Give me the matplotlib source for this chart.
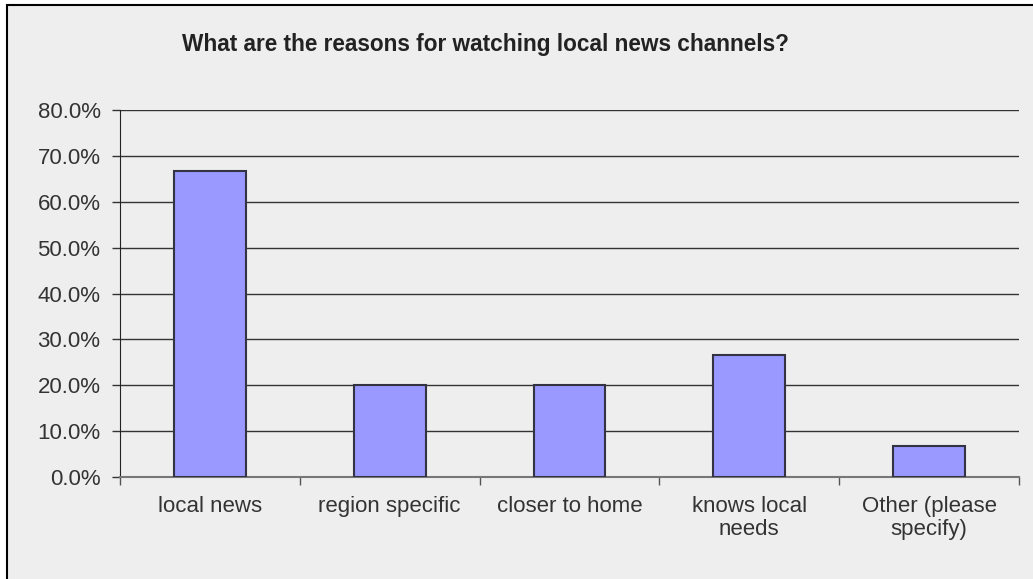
import numpy as np
import matplotlib.pyplot as plt
from matplotlib.patches import Rectangle
from matplotlib.ticker import FuncFormatter

## Data
categories = ['local news', 'region specific', 'closer to home',
              'knows local\nneeds', 'Other (please\nspecify)']
percent = [66.7, 20.0, 20.0, 26.7, 6.7]
yticks = [0, 10, 20, 30, 40, 50, 60, 70, 80]

plt.rcParams['font.family'] = ['Liberation Sans', 'DejaVu Sans']
text_col = '#333333'

fig = plt.figure(figsize=(10.33, 5.79), dpi=100, facecolor='white')

## grey chart area with black frame on top and left
fig.patches.append(Rectangle((7 / 1033, -0.05), 1.1, 1 - 5 / 579 + 0.05,
                             transform=fig.transFigure, facecolor='#eeeeee',
                             edgecolor='black', linewidth=1.5, zorder=-10))

ax = fig.add_axes([120 / 1033, 1 - 477 / 579, 899 / 1033, 367 / 579])
ax.set_facecolor('none')

x = np.arange(len(categories))
ax.bar(x, percent, width=0.4, color='#9999ff', edgecolor='#333344',
       linewidth=1.5, zorder=3)

ax.set_xlim(-0.5, len(categories) - 0.5)
ax.set_ylim(0, 80)
ax.set_yticks(yticks)
ax.yaxis.set_major_formatter(FuncFormatter(lambda v, p: f'{v:.1f}%'))
ax.grid(axis='y', color='#333333', linewidth=1, zorder=1)

ax.set_xticks(x)
ax.set_xticklabels(categories, linespacing=1.1)
ax.set_xticks(np.arange(-0.5, len(categories)), minor=True)
ax.tick_params(axis='x', which='major', length=0, pad=14,
               labelsize=16, labelcolor=text_col)
ax.tick_params(axis='x', which='minor', length=6, width=1, color='#555555')
ax.tick_params(axis='y', length=6, width=1, color='#333333', pad=8,
               labelsize=16, labelcolor=text_col)

for s in ['top', 'right']:
    ax.spines[s].set_visible(False)
ax.spines['left'].set_color('#222222')
ax.spines['bottom'].set_color('#777777')
ax.spines['bottom'].set_linewidth(1.5)

fig.text(485 / 1033, 1 - 45 / 579,
         'What are the reasons for watching local news channels?',
         ha='center', va='center', fontsize=16.3, fontweight='bold',
         color='#222222')

fig.savefig('out.png', dpi=100)
